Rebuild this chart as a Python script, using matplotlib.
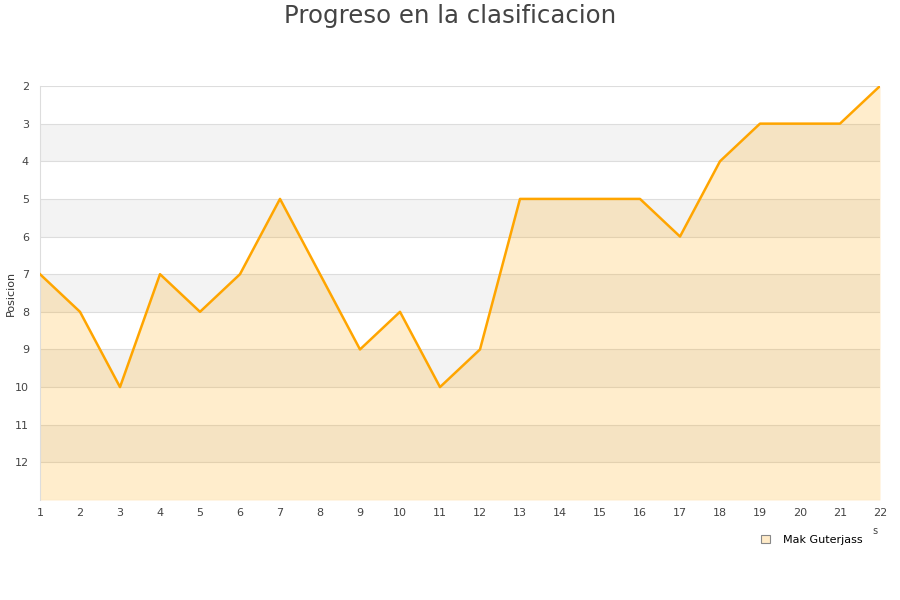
import matplotlib
matplotlib.use("Agg")
import matplotlib.pyplot as plt
from matplotlib.patches import Patch

jornadas = list(range(1, 23))
posicion = [7, 8, 10, 7, 8, 7, 5, 7, 9, 8, 10, 9, 5, 5, 5, 5, 6, 4, 3, 3, 3, 2]
yticks = list(range(2, 13))
serie = "Mak Guterjass"
titulo = "Progreso en la clasificacion"
ylabel = "Posicion"

fig = plt.figure(figsize=(9, 6), dpi=100)
ax = fig.add_axes([40/900, 1-500/600, 840/900, 414/600])

ymin, ymax = 2, 13
# alternating bands
for k in range(ymin, ymax):
    if (k - ymin) % 2 == 1:
        ax.axhspan(k, k+1, color="#f3f3f3", zorder=0, lw=0)
for k in range(ymin, ymax + 1):
    ax.axhline(k, color="#dddddd", lw=0.8, zorder=1)

ax.fill_between(jornadas, posicion, ymax, color="#ffa500", alpha=0.2, lw=0, zorder=2)
ax.plot(jornadas, posicion, color="#ffa500", lw=1.8, zorder=3)

ax.set_xlim(1, 22)
ax.set_ylim(ymax, ymin)
ax.set_xticks(jornadas)
ax.set_yticks(yticks)
ax.tick_params(axis="both", length=0, labelsize=8, colors="#444444", pad=6)
ax.tick_params(axis="y", pad=8)
for s in ["top", "right", "bottom"]:
    ax.spines[s].set_visible(False)
ax.spines["left"].set_color("#dddddd")

fig.text(11/900, 1-293/600, ylabel, ha="center", va="center", rotation=90,
         fontsize=8, color="#333333")
fig.text(0.5, 1-16/600, titulo, ha="center", va="center", fontsize=17.6, color="#444444")
fig.text(875/900, 1-531/600, "s", ha="center", va="center", fontsize=7, color="#444444")

leg = fig.legend(handles=[Patch(facecolor="#ffebc8", edgecolor="#888888", lw=0.8, label=serie)],
                 loc="center", bbox_to_anchor=(812/900, 1-540/600), frameon=False,
                 fontsize=8, handlelength=0.8, handleheight=0.8, handletextpad=1.2)

fig.savefig("out.png", dpi=100)
